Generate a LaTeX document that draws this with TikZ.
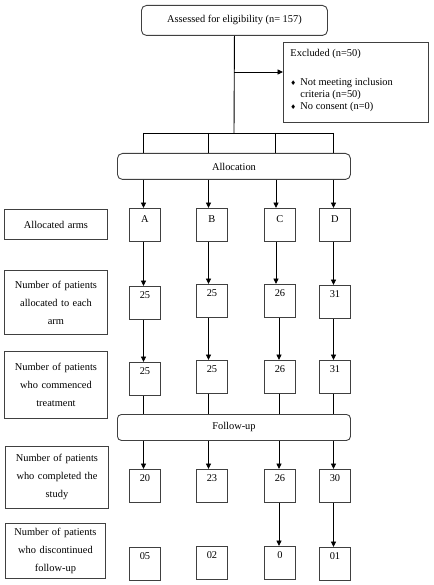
\documentclass[tikz,border=0pt]{standalone}
\usepackage{fontspec}
\setmainfont{Liberation Serif}
\newfontfamily\symfont{DejaVu Sans}
\usetikzlibrary{arrows.meta}
\begin{document}
\begin{tikzpicture}[x=1pt,y=-1pt,
  line width=0.9pt,
  every node/.style={font=\fontsize{10.4}{12}\selectfont},
  arr/.style={-{Triangle[length=5.5pt,width=5pt]}},
  rbox/.style={draw=black!75, rounded corners=5pt, inner sep=0pt, anchor=north west},
  numbox/.style={draw=black!75, inner sep=0pt, anchor=north west, minimum width=31pt, text height=12pt, text depth=21pt},
  armbox/.style={draw=black!75, inner sep=0pt, anchor=north west, minimum width=31pt, text height=14pt, text depth=19pt},
  labbox/.style={draw=black!75, inner sep=0pt, anchor=north west, text width=98pt, align=center, font=\fontsize{10.4}{18}\selectfont}
]
\useasboundingbox (0,0) rectangle (433,585);

% top
\node[rbox, minimum width=186pt, minimum height=30pt] (top) at (141,5) {Assessed for eligibility (n= 157)};
\node[draw=black!75, inner sep=0pt, anchor=north west, minimum width=145pt, minimum height=80pt] (excl) at (283,42) {};
\node[anchor=north west, inner sep=0pt, align=left] (excltext) at (290,48.5)
  {Excluded (n=50)\\[17pt]
   \makebox[10pt][l]{\symfont\fontsize{6.5}{6.5}\selectfont ♦}Not meeting inclusion\\
   \hspace*{10pt}criteria (n=50)\\
   \makebox[10pt][l]{\symfont\fontsize{6.5}{6.5}\selectfont ♦}No consent (n=0)};

\coordinate (split) at (234,133);
\coordinate (exj) at (234,72);
\coordinate (bA) at (143.5,133);
\coordinate (bB) at (208.5,133);
\coordinate (bC) at (275.5,133);
\coordinate (bD) at (333.5,133);
\coordinate (cA) at (143.5,0);
\coordinate (cB) at (208.5,0);
\coordinate (cC) at (276,0);
\coordinate (cC2) at (279,0);
\coordinate (cD) at (333.5,0);

\node[rbox, minimum width=233pt, minimum height=26pt] (alloc) at (117,153) {Allocation};
\node[rbox, minimum width=233pt, minimum height=26pt, rounded corners=4pt] (fu) at (117,414) {Follow-up};

% labels
\node[labbox, minimum width=103pt, minimum height=30pt] (L0) at (4,209) {Allocated arms};
\node[labbox, minimum width=103pt, minimum height=64pt] (L1) at (4,270) {Number of patients\\allocated to each\\arm};
\node[labbox, minimum width=103pt, minimum height=67pt] (L2) at (4,351) {Number of patients\\who commenced\\treatment\\[6pt]};
\node[labbox, minimum width=103pt, minimum height=62pt] (L3) at (5,446) {Number of patients\\who completed the\\study};
\node[labbox, minimum width=100pt, minimum height=55pt] (L4) at (5,523) {Number of patients\\who discontinued\\follow-up};

% arms
\node[armbox] (aA) at (129,208) {A};
\node[armbox] (aB) at (196,208) {B};
\node[armbox] (aC) at (264,208) {C};
\node[armbox] (aD) at (319,208) {D};
% row 1
\node[numbox] (r1A) at (129,286) {25};
\node[numbox] (r1B) at (196,284) {25};
\node[numbox] (r1C) at (264,284) {26};
\node[numbox] (r1D) at (319,285) {31};
% row 2
\node[numbox] (r2A) at (129,362) {25};
\node[numbox] (r2B) at (196,360) {25};
\node[numbox] (r2C) at (264,360) {26};
\node[numbox] (r2D) at (319,360) {31};
% row 3
\node[numbox] (r3A) at (129,469) {20};
\node[numbox] (r3B) at (196,469) {23};
\node[numbox] (r3C) at (264,469) {26};
\node[numbox] (r3D) at (319,469) {30};
% row 4
\node[numbox] (r4A) at (129,547) {05};
\node[numbox] (r4B) at (196,546) {02};
\node[numbox] (r4C) at (264,546) {0};
\node[numbox] (r4D) at (319,547) {01};

% connectors
\draw (top.south) -- (split);
\draw[arr] (exj) -- (exj -| excl.west);
\draw (bA) -- (bD);
\foreach \b in {bA,bB,bC,bD} \draw (\b) -- (\b |- alloc.north);

\foreach \c/\n in {cA/A,cB/B,cC/C,cD/D} {
  \draw[arr] (alloc.south -| \c) -- (a\n.north -| \c);
  \draw[arr] (a\n.south -| \c) -- (r1\n.north -| \c);
}
\foreach \c/\n in {cA/A,cB/B,cC2/C,cD/D} {
  \draw[arr] (r1\n.south -| \c) -- (r2\n.north -| \c);
  \draw (r2\n.south -| \c) -- (fu.north -| \c);
  \draw[arr] (fu.south -| \c) -- (r3\n.north -| \c);
}
\draw[arr] (r3C.south -| cC2) -- (r4C.north -| cC2);
\draw[arr] (r3D.south -| cD) -- (r4D.north -| cD);
\end{tikzpicture}
\end{document}
